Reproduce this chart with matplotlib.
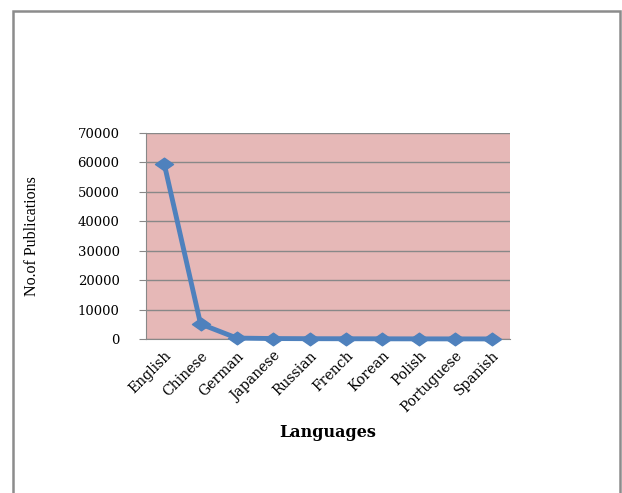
import matplotlib
matplotlib.use("Agg")
import matplotlib.pyplot as plt
from matplotlib.patches import Rectangle
from matplotlib.path import Path

languages = ["English", "Chinese", "German", "Japanese", "Russian",
             "French", "Korean", "Polish", "Portuguese", "Spanish"]
publications = [59600, 5100, 300, 150, 100, 80, 60, 40, 30, 20]
yticks = [0, 10000, 20000, 30000, 40000, 50000, 60000, 70000]

# flattened diamond like the Excel marker
diamond = Path([(-1, 0), (0, 0.7), (1, 0), (0, -0.7), (-1, 0)],
               [Path.MOVETO, Path.LINETO, Path.LINETO, Path.LINETO, Path.CLOSEPOLY])

fig = plt.figure(figsize=(6.22, 4.93), dpi=100)
fig.patch.set_facecolor("white")

# page frame around the chart
fig.add_artist(Rectangle((0.021, -0.02), 0.976, 0.998, transform=fig.transFigure,
                         facecolor="none", edgecolor="#8c8c8c", lw=1.8))

ax = fig.add_axes([0.2347, 0.3124, 0.585, 0.4178])
ax.set_facecolor("#E6B8B7")
x = range(len(languages))
ax.plot(x, publications, color="#4F81BD", lw=3.5, marker=diamond, ms=13,
        markeredgecolor="#4F81BD", zorder=3, clip_on=False)

ax.set_xlim(-0.5, len(languages) - 0.5)
ax.set_ylim(0, 70000)
ax.set_yticks(yticks)
ax.set_yticklabels([str(v) for v in yticks], family="DejaVu Serif", fontsize=9.5)
ax.set_xticks(list(x))
ax.set_xticklabels(languages, rotation=45, ha="right", rotation_mode="anchor",
                   family="DejaVu Serif", fontsize=10)
ax.tick_params(axis="x", length=0, pad=7)
ax.tick_params(axis="y", length=5, color="#888888", pad=14)
ax.grid(axis="y", color="#888888", lw=1)
ax.set_axisbelow(True)
for s in ["top", "right"]:
    ax.spines[s].set_visible(False)
ax.spines["left"].set_color("#888888")
ax.spines["bottom"].set_color("#888888")

ax.set_xlabel("Languages", family="DejaVu Serif", fontweight="bold",
              fontsize=11.5, labelpad=6)
ax.set_ylabel("No.of Publications", family="Liberation Serif", fontsize=11.5,
              labelpad=27)

fig.savefig("out.png", dpi=100)
